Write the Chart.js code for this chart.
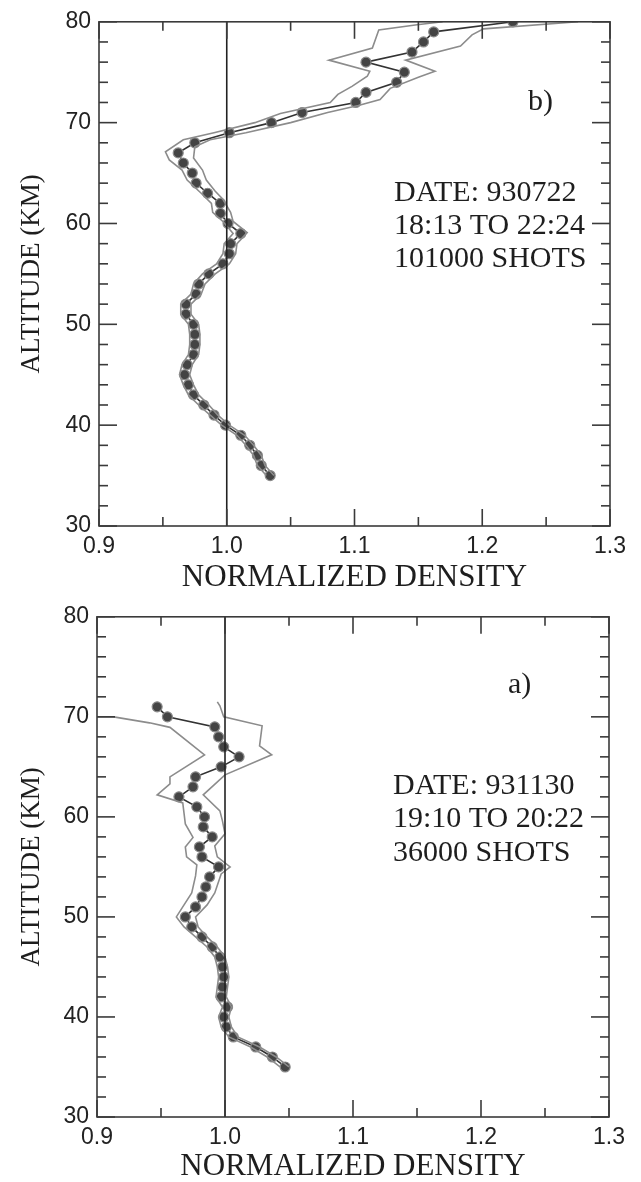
<!DOCTYPE html>
<html>
<head>
<meta charset="utf-8">
<script src="https://cdn.jsdelivr.net/npm/chart.js@4.4.1/dist/chart.umd.min.js"></script>
<style>
  html, body { margin: 0; padding: 0; background: #fff; }
  canvas { display: block; }
</style>
</head>
<body>
<canvas id="chartB" width="641" height="595"></canvas>
<canvas id="chartA" width="641" height="587"></canvas>
<script>
// shared axes
var xLabels = [0.9, 1.0, 1.1, 1.2, 1.3];
var xMinor = [0.95, 1.05, 1.15, 1.25];
var yLabels = [30, 40, 50, 60, 70, 80];
var yMinor = [32, 34, 36, 38, 42, 44, 46, 48, 52, 54, 56, 58, 62, 64, 66, 68, 72, 74, 76, 78];
var refDensity = 1.0;

// panel b) 930722
var bAlt = [35, 36, 37, 38, 39, 40, 41, 42, 43, 44, 45, 46, 47, 48, 49, 50, 51, 52, 53, 54, 55, 56, 57,
            58, 59, 60, 61, 62, 63, 64, 65, 66, 67, 68, 69, 70, 71, 72, 73, 74, 75, 76, 77, 78, 79, 80];
var bDens = [1.034, 1.027, 1.024, 1.018, 1.011, 0.999, 0.990, 0.982, 0.974, 0.970, 0.967, 0.969, 0.974, 0.975, 0.975, 0.974, 0.968, 0.968, 0.976, 0.978, 0.986, 0.997, 1.002,
             1.003, 1.011, 1.001, 0.995, 0.995, 0.985, 0.976, 0.973, 0.966, 0.962, 0.975, 1.002, 1.035, 1.059, 1.101, 1.109, 1.133, 1.139, 1.109, 1.145, 1.154, 1.162, 1.224];
var bLowAlt = [80.0, 79.7, 79.2, 77.4, 76.2, 75.1, 74.6, 73.6, 72.8, 72.0, 70.9, 70.0, 69.0, 68.3, 67.1, 66.3, 65.3, 64.3, 63.0, 62.0, 61.1, 60.2, 59.0,
               58, 57, 56, 55, 54, 53, 52, 51, 50, 49, 48, 47, 46, 45, 44, 43, 42, 41, 40, 39, 38, 37, 36, 35];
var bLowDens = [1.169, 1.149, 1.119, 1.114, 1.080, 1.112, 1.110, 1.098, 1.087, 1.081, 1.042, 1.022, 0.990, 0.966, 0.952, 0.955, 0.965, 0.969, 0.980, 0.988, 0.989, 0.997, 1.005,
                0.998, 0.997, 0.992, 0.981, 0.974, 0.972, 0.964, 0.964, 0.970, 0.971, 0.971, 0.970, 0.965, 0.963, 0.966, 0.970, 0.978, 0.987, 0.996, 1.008, 1.015, 1.021, 1.024, 1.031];
var bUpAlt = [80.0, 79.3, 78.7, 77.6, 76.2, 75.1, 74.5, 73.4, 72.3, 71.7, 71.0, 70.0, 69.0, 68.3, 67.6, 66.5, 65.3, 64.3, 63.2, 62.4, 61.1, 60.2, 59.1,
              58, 57, 56, 55, 54, 53, 52, 51, 50, 49, 48, 47, 46, 45, 44, 43, 42, 41, 40, 39, 38, 37, 36, 35];
var bUpDens = [1.275, 1.201, 1.192, 1.183, 1.140, 1.163, 1.150, 1.128, 1.120, 1.103, 1.079, 1.050, 1.015, 0.987, 0.975, 0.974, 0.981, 0.984, 0.991, 0.997, 1.003, 1.005, 1.016,
               1.008, 1.007, 1.002, 0.991, 0.983, 0.980, 0.972, 0.972, 0.978, 0.979, 0.979, 0.978, 0.973, 0.971, 0.974, 0.978, 0.986, 0.993, 1.002, 1.014, 1.021, 1.027, 1.030, 1.037];
var bNotes = ['DATE: 930722', '18:13 TO 22:24', '101000 SHOTS'];

// panel a) 931130
var aAlt = [35, 36, 37, 38, 39, 40, 41, 42, 43, 44, 45, 46, 47, 48, 49, 50, 51, 52, 53,
            54, 55, 56, 57, 58, 59, 60, 61, 62, 63, 64, 65, 66, 67, 68, 69, 70, 71];
var aDens = [1.047, 1.037, 1.024, 1.0065, 1.001, 0.999, 1.002, 0.997, 0.998, 0.999, 0.998, 0.996, 0.990, 0.982, 0.974, 0.969, 0.977, 0.982, 0.985,
             0.988, 0.995, 0.982, 0.980, 0.990, 0.983, 0.984, 0.978, 0.964, 0.975, 0.977, 0.997, 1.011, 0.999, 0.995, 0.992, 0.955, 0.947];
var aLowAlt = [70.0, 70.0, 69.4, 68.95, 66.2, 64.0, 63.3, 62.2, 61.4, 59.3, 57.95, 57.0, 56.0, 55.2, 54.1, 52.4, 51.2, 50.0,
               49, 48, 47, 46, 45, 44, 43, 42, 41, 40, 39, 38, 37, 36, 35];
var aLowDens = [0.895, 0.913, 0.941, 0.957, 0.984, 0.957, 0.957, 0.947, 0.967, 0.969, 0.975, 0.969, 0.970, 0.978, 0.977, 0.974, 0.968, 0.962,
                0.968, 0.977, 0.986, 0.992, 0.994, 0.995, 0.994, 0.993, 0.998, 0.995, 0.997, 1.003, 1.020, 1.033, 1.043];
var aUpAlt = [71.5, 71.1, 70.0, 69.1, 67.1, 66.2, 64.2, 62.2, 60.6, 59.6, 58.3, 57.1, 56.0, 55.0, 54.3, 52.4, 51.2, 50.0,
              49, 48, 47, 46, 45, 44, 43, 42, 41, 40, 39, 38, 37, 36, 35];
var aUpDens = [0.994, 0.996, 0.999, 1.029, 1.027, 1.0365, 1.000, 0.983, 0.996, 0.998, 1.000, 0.992, 0.994, 1.004, 0.997, 0.992, 0.986, 0.977,
               0.979, 0.986, 0.994, 1.000, 1.002, 1.003, 1.002, 1.001, 1.005, 1.003, 1.005, 1.010, 1.027, 1.040, 1.050];
var aNotes = ['DATE: 931130', '19:10 TO 20:22', '36000 SHOTS'];

function pts(alts, vals) {
  var out = [];
  for (var i = 0; i < alts.length; i++) out.push({x: vals[i], y: alts[i]});
  return out;
}

// frame, inward ticks and the text notes
function decor(p) {
  return {
    id: 'decor',
    afterDatasetsDraw: function(chart) {
      var ctx = chart.ctx, a = chart.chartArea, x = chart.scales.x, y = chart.scales.y;
      function seg(x1, y1, x2, y2) { ctx.beginPath(); ctx.moveTo(x1, y1); ctx.lineTo(x2, y2); ctx.stroke(); }
      ctx.save();
      ctx.strokeStyle = '#3a3a3a';
      ctx.lineWidth = 1.6;
      ctx.strokeRect(a.left, a.top, a.right - a.left, a.bottom - a.top);
      xLabels.forEach(function(v) { var px = x.getPixelForValue(v); seg(px, a.bottom, px, a.bottom - 17); seg(px, a.top, px, a.top + 17); });
      xMinor.forEach(function(v) { var px = x.getPixelForValue(v); seg(px, a.bottom, px, a.bottom - 9); seg(px, a.top, px, a.top + 9); });
      yLabels.forEach(function(v) { var py = y.getPixelForValue(v); seg(a.left, py, a.left + 18, py); seg(a.right, py, a.right - 18, py); });
      yMinor.forEach(function(v) { var py = y.getPixelForValue(v); seg(a.left, py, a.left + 9, py); seg(a.right, py, a.right - 9, py); });

      ctx.fillStyle = '#1e1e1e';
      ctx.font = '30px "Liberation Serif"';
      ctx.textBaseline = 'middle';
      ctx.textAlign = 'left';
      p.notes.forEach(function(t, i) { ctx.fillText(t, a.left + p.noteX, a.top + p.noteY + i * p.noteGap); });
      ctx.fillText(p.tag, a.left + p.tagX, a.top + p.tagY);
      ctx.restore();
    }
  };
}

function makePanel(id, p) {
  var refLine = [{x: refDensity, y: yLabels[0]}, {x: refDensity, y: yLabels[yLabels.length - 1]}];
  return new Chart(document.getElementById(id), {
    type: 'scatter',
    data: {
      datasets: [
        {data: refLine, showLine: true, borderColor: '#222', borderWidth: 1.6, pointRadius: 0},
        {data: pts(p.lowAlt, p.lowDens), showLine: true, borderColor: '#8c8c8c', borderWidth: 1.6, pointRadius: 0},
        {data: pts(p.upAlt, p.upDens), showLine: true, borderColor: '#8c8c8c', borderWidth: 1.6, pointRadius: 0},
        {data: pts(p.alt, p.dens), showLine: true, borderColor: '#333', borderWidth: 1.6,
         pointRadius: 5, pointBackgroundColor: '#444', pointBorderColor: '#8a8a8a', pointBorderWidth: 1.2}
      ]
    },
    options: {
      responsive: false,
      animation: false,
      layout: {padding: {top: p.padTop, right: p.padRight, left: 0, bottom: 0}},
      plugins: {legend: {display: false}, tooltip: {enabled: false}},
      scales: {
        x: {
          type: 'linear', min: 0.9, max: 1.3,
          afterBuildTicks: function(s) { s.ticks = xLabels.map(function(v) { return {value: v}; }); },
          afterFit: function(s) { s.height = p.xAxisH; },
          grid: {display: false, drawTicks: false},
          border: {display: false},
          ticks: {padding: 7, color: '#222', autoSkip: false, maxRotation: 0,
                  font: {family: 'Liberation Sans', size: 23},
                  callback: function(v) { return v.toFixed(1); }},
          title: {display: true, text: 'NORMALIZED DENSITY', color: '#1e1e1e',
                  font: {family: 'Liberation Serif', size: 31, lineHeight: 1},
                  padding: {top: 0, bottom: p.xTitlePad}}
        },
        y: {
          type: 'linear', min: 30, max: 80,
          afterBuildTicks: function(s) { s.ticks = yLabels.map(function(v) { return {value: v}; }); },
          afterFit: function(s) { s.width = p.yAxisW; },
          grid: {display: false, drawTicks: false},
          border: {display: false},
          ticks: {padding: 8, color: '#222', autoSkip: false,
                  font: {family: 'Liberation Sans', size: 23}},
          title: {display: true, text: 'ALTITUDE (KM)', color: '#1e1e1e',
                  font: {family: 'Liberation Serif', size: 27, lineHeight: 1},
                  padding: {top: 18, bottom: 0}}
        }
      }
    },
    plugins: [decor(p)]
  });
}

makePanel('chartB', {
  alt: bAlt, dens: bDens, lowAlt: bLowAlt, lowDens: bLowDens, upAlt: bUpAlt, upDens: bUpDens,
  notes: bNotes, tag: 'b)',
  padTop: 17, padRight: 31, xAxisH: 69, yAxisW: 99, xTitlePad: 1.5,
  noteX: 295, noteY: 171, noteGap: 33, tagX: 429, tagY: 80
});

makePanel('chartA', {
  alt: aAlt, dens: aDens, lowAlt: aLowAlt, lowDens: aLowDens, upAlt: aUpAlt, upDens: aUpDens,
  notes: aNotes, tag: 'a)',
  padTop: 14, padRight: 32, xAxisH: 65, yAxisW: 97, xTitlePad: 0,
  noteX: 296, noteY: 169, noteGap: 33.5, tagX: 411, tagY: 68
});
</script>
</body>
</html>
